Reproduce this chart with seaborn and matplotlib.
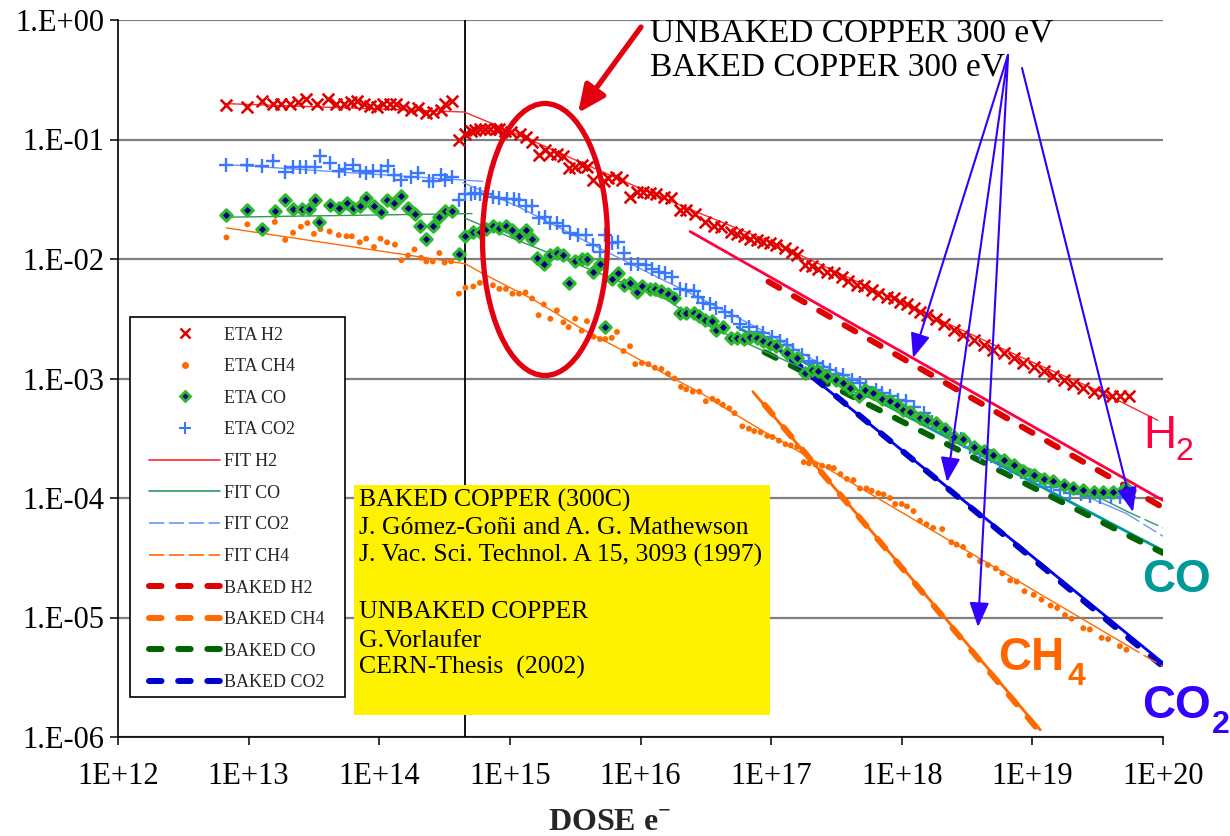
import numpy as np
import matplotlib
matplotlib.use("Agg")
import matplotlib.pyplot as plt
import seaborn as sns
from matplotlib.lines import Line2D
from matplotlib.patches import Ellipse, Rectangle
from matplotlib.ticker import NullLocator

sns.set_theme(style="ticks")
plt.rcParams["font.family"] = ["Liberation Serif", "DejaVu Serif"]
plt.rcParams["mathtext.fontset"] = "custom"
plt.rcParams["mathtext.rm"] = "Liberation Serif"
plt.rcParams["mathtext.bf"] = "Liberation Serif:bold"
plt.rcParams["lines.scale_dashes"] = False

# ---------------------------------------------------------------------------
# Desorption yields (molecules / electron) versus electron dose (e-/cm2).
# Values are stored as decimal exponents: dose = 10**dose_exp, eta = 10**eta_exp
# ---------------------------------------------------------------------------
h2_dose_exp = [12.83, 12.99, 13.10, 13.19, 13.25, 13.32, 13.38, 13.44, 13.52, 13.61,
               13.67, 13.73, 13.78, 13.83, 13.88, 13.93, 13.98, 14.03, 14.08, 14.13,
               14.18, 14.24, 14.30, 14.36, 14.41, 14.47, 14.50, 14.56,
               14.61, 14.66, 14.70, 14.73, 14.77, 14.81, 14.85, 14.89, 14.92, 14.96,
               15.01, 15.08, 15.12, 15.17, 15.22, 15.27, 15.31, 15.36, 15.41, 15.45,
               15.50, 15.55, 15.59, 15.64, 15.72, 15.75, 15.81, 15.86, 15.92, 15.97,
               16.02, 16.07, 16.12, 16.18, 16.23, 16.30, 16.35, 16.42,
               16.49, 16.56, 16.62, 16.69, 16.74, 16.79, 16.84, 16.89, 16.94, 16.99,
               17.04, 17.11, 17.16, 17.20, 17.26, 17.31, 17.36, 17.43, 17.48, 17.54,
               17.59, 17.66, 17.71, 17.77, 17.82, 17.89, 17.94, 17.99, 18.04, 18.09,
               18.14, 18.19, 18.26,
               18.32, 18.40, 18.47, 18.55, 18.63, 18.70, 18.78, 18.86, 18.93, 19.01,
               19.09, 19.16, 19.24, 19.31, 19.39, 19.47, 19.54, 19.61, 19.67, 19.74]
h2_eta_exp = [-0.71, -0.73, -0.68, -0.70, -0.70, -0.70, -0.69, -0.66, -0.70, -0.66,
              -0.70, -0.70, -0.69, -0.68, -0.70, -0.72, -0.73, -0.70, -0.70, -0.70,
              -0.73, -0.75, -0.74, -0.78, -0.77, -0.75, -0.70, -0.68,
              -1.00, -0.95, -0.93, -0.92, -0.91, -0.91, -0.91, -0.91, -0.91, -0.93,
              -0.94, -0.95, -0.98, -1.02, -1.13, -1.09, -1.12, -1.12, -1.14, -1.24,
              -1.23, -1.21, -1.23, -1.34, -1.35, -1.32, -1.31, -1.34, -1.48, -1.44,
              -1.44, -1.45, -1.46, -1.48, -1.49, -1.59, -1.59, -1.62,
              -1.69, -1.72, -1.73, -1.77, -1.79, -1.81, -1.83, -1.84, -1.86, -1.87,
              -1.88, -1.91, -1.94, -1.97, -2.05, -2.06, -2.08, -2.11, -2.12, -2.15,
              -2.18, -2.22, -2.23, -2.26, -2.29, -2.32, -2.33, -2.36, -2.38, -2.41,
              -2.44, -2.47, -2.50,
              -2.54, -2.59, -2.64, -2.68, -2.72, -2.76, -2.79, -2.83, -2.87, -2.90,
              -2.94, -2.98, -3.01, -3.05, -3.08, -3.11, -3.12, -3.15, -3.15, -3.15]

ch4_dose_exp = [12.83, 12.99, 13.20, 13.28, 13.34, 13.40, 13.45, 13.50, 13.55, 13.62,
                13.69, 13.75, 13.79, 13.85, 13.90, 13.96, 14.01, 14.06, 14.12, 14.17,
                14.22, 14.27, 14.32, 14.36, 14.41, 14.46, 14.50, 14.55,
                14.61, 14.66, 14.72, 14.77, 14.87, 14.92, 14.97, 15.02, 15.07, 15.12,
                15.17, 15.22, 15.26, 15.31, 15.36, 15.41, 15.45, 15.50, 15.55, 15.59,
                15.64, 15.69, 15.73, 15.78, 15.82, 15.87, 15.92, 15.96, 16.01, 16.06,
                16.11, 16.16, 16.21, 16.26, 16.31, 16.35, 16.40, 16.45, 16.50, 16.55,
                16.59, 16.63, 16.68, 16.72, 16.78, 16.83, 16.87, 16.92, 16.97, 17.01,
                17.06, 17.11, 17.15, 17.20,
                17.25, 17.29, 17.34, 17.39, 17.44, 17.48, 17.53, 17.58, 17.63, 17.68,
                17.73, 17.77, 17.82, 17.86, 17.91, 17.95, 18.00, 18.04, 18.09, 18.14,
                18.19, 18.24, 18.31, 18.38, 18.42, 18.47, 18.52, 18.60, 18.66, 18.72,
                18.77, 18.83, 18.88, 18.94, 19.01, 19.07, 19.14, 19.19, 19.25, 19.30,
                19.39, 19.44, 19.53, 19.58, 19.67, 19.72]
ch4_eta_exp = [-1.82, -1.71, -1.69, -1.84, -1.78, -1.73, -1.70, -1.79, -1.75, -1.77,
               -1.80, -1.81, -1.81, -1.86, -1.83, -1.90, -1.83, -1.86, -1.88, -2.01,
               -1.97, -1.92, -1.99, -2.02, -2.02, -1.95, -2.03, -2.02,
               -2.29, -2.24, -2.23, -2.20, -2.22, -2.25, -2.25, -2.29, -2.29, -2.28,
               -2.33, -2.47, -2.38, -2.50, -2.43, -2.53, -2.57, -2.50, -2.60, -2.52,
               -2.65, -2.67, -2.67, -2.66, -2.61, -2.77, -2.73, -2.88, -2.87, -2.88,
               -2.91, -2.92, -2.96, -3.00, -3.07, -3.09, -3.11, -3.11, -3.19, -3.17,
               -3.19, -3.22, -3.25, -3.29, -3.40, -3.42, -3.44, -3.45, -3.48, -3.49,
               -3.52, -3.55, -3.56, -3.57,
               -3.70, -3.71, -3.72, -3.73, -3.74, -3.75, -3.80, -3.84, -3.85, -3.92,
               -3.92, -3.94, -3.96, -3.97, -4.00, -4.05, -4.05, -4.07, -4.11, -4.19,
               -4.22, -4.25, -4.26, -4.37, -4.39, -4.41, -4.48, -4.53, -4.56, -4.59,
               -4.63, -4.69, -4.70, -4.78, -4.81, -4.85, -4.90, -4.92, -4.98, -5.01,
               -5.09, -5.10, -5.17, -5.18, -5.24, -5.27]

co_dose_exp = [12.83, 12.99, 13.10, 13.20, 13.28, 13.34, 13.41, 13.46, 13.51, 13.54,
               13.62, 13.69, 13.75, 13.80, 13.85, 13.90, 13.96, 14.01, 14.06, 14.11,
               14.17, 14.22, 14.27, 14.31, 14.36, 14.41, 14.46, 14.50, 14.56,
               14.61, 14.66, 14.72, 14.77, 14.82, 14.87, 14.92, 14.97, 15.02, 15.07,
               15.12, 15.17, 15.21, 15.26, 15.31, 15.36, 15.41, 15.45, 15.50, 15.55,
               15.59, 15.64, 15.69, 15.73, 15.78, 15.83, 15.87, 15.92, 15.97, 16.01,
               16.07, 16.11, 16.16, 16.21, 16.26, 16.30, 16.35, 16.41, 16.45,
               16.49, 16.55, 16.58, 16.63, 16.69, 16.74, 16.79, 16.84, 16.89, 16.94,
               16.99, 17.04, 17.12, 17.20, 17.26, 17.31, 17.36, 17.43, 17.50, 17.55,
               17.60, 17.67, 17.72, 17.78, 17.85, 17.91, 17.96, 18.01, 18.06, 18.14,
               18.19, 18.26,
               18.33, 18.40, 18.47, 18.55, 18.63, 18.70, 18.78, 18.86, 18.93, 19.01,
               19.09, 19.16, 19.24, 19.31, 19.39, 19.47, 19.54, 19.62, 19.69, 19.72]
co_eta_exp = [-1.63, -1.59, -1.75, -1.60, -1.51, -1.58, -1.58, -1.58, -1.51, -1.69,
              -1.55, -1.57, -1.53, -1.57, -1.56, -1.49, -1.56, -1.61, -1.51, -1.53,
              -1.47, -1.57, -1.62, -1.72, -1.83, -1.72, -1.65, -1.60, -1.60,
              -1.96, -1.81, -1.77, -1.77, -1.75, -1.72, -1.74, -1.72, -1.76, -1.81,
              -1.76, -1.83, -1.99, -2.04, -1.97, -1.95, -1.97, -2.20, -2.02, -2.00,
              -2.00, -2.11, -2.04, -2.57, -2.17, -2.12, -2.22, -2.20, -2.28, -2.23,
              -2.25, -2.25, -2.27, -2.29, -2.33, -2.45, -2.45, -2.45, -2.48,
              -2.51, -2.52, -2.59, -2.57, -2.66, -2.66, -2.67, -2.65, -2.66, -2.69,
              -2.71, -2.73, -2.79, -2.83, -2.95, -2.93, -2.94, -2.98, -3.01, -3.04,
              -3.08, -3.15, -3.10, -3.12, -3.17, -3.19, -3.22, -3.26, -3.28, -3.33,
              -3.35, -3.37,
              -3.42, -3.49, -3.51, -3.57, -3.61, -3.64, -3.68, -3.72, -3.77, -3.81,
              -3.84, -3.86, -3.89, -3.92, -3.93, -3.95, -3.95, -3.95, -3.93, -3.92]

co2_dose_exp = [12.83, 12.99, 13.10, 13.19, 13.28, 13.34, 13.39, 13.44, 13.51, 13.55,
                13.62, 13.69, 13.74, 13.80, 13.85, 13.90, 13.95, 14.01, 14.07, 14.11,
                14.17, 14.24, 14.30, 14.38, 14.41, 14.47, 14.50, 14.56,
                14.61, 14.66, 14.70, 14.73, 14.77, 14.82, 14.87, 14.92, 14.98, 15.03,
                15.07, 15.12, 15.17, 15.22, 15.27, 15.31, 15.36, 15.41, 15.46, 15.52,
                15.58, 15.64, 15.69, 15.73, 15.78, 15.83, 15.87, 15.93, 15.98, 16.04,
                16.09, 16.14, 16.19, 16.24, 16.30, 16.35, 16.41, 16.44,
                16.48, 16.53, 16.58, 16.65, 16.70, 16.76, 16.83, 16.89, 16.94, 17.01,
                17.07, 17.12, 17.17, 17.24, 17.29, 17.35, 17.40, 17.45, 17.50, 17.55,
                17.62, 17.68, 17.73, 17.80, 17.85, 17.91, 17.97, 18.03, 18.09, 18.17,
                18.23,
                18.29, 18.37, 18.45, 18.52, 18.60, 18.68, 18.75, 18.83, 18.91, 18.98,
                19.06, 19.14, 19.21, 19.29, 19.37, 19.44, 19.52, 19.60, 19.67, 19.74]
co2_eta_exp = [-1.21, -1.21, -1.22, -1.18, -1.27, -1.23, -1.23, -1.23, -1.23, -1.14,
               -1.20, -1.26, -1.25, -1.21, -1.26, -1.28, -1.26, -1.26, -1.22, -1.30,
               -1.34, -1.31, -1.28, -1.35, -1.35, -1.30, -1.34, -1.31,
               -1.51, -1.46, -1.46, -1.45, -1.46, -1.46, -1.48, -1.49, -1.50, -1.50,
               -1.51, -1.56, -1.56, -1.66, -1.65, -1.70, -1.70, -1.72, -1.78, -1.80,
               -1.80, -1.88, -1.94, -1.80, -1.87, -1.86, -1.95, -2.04, -2.04, -2.05,
               -2.08, -2.11, -2.12, -2.15, -2.25, -2.26, -2.27, -2.32,
               -2.37, -2.38, -2.41, -2.44, -2.48, -2.54, -2.57, -2.61, -2.62, -2.65,
               -2.69, -2.72, -2.76, -2.80, -2.85, -2.87, -2.90, -2.93, -2.96, -2.97,
               -3.01, -3.04, -3.07, -3.10, -3.12, -3.15, -3.18, -3.19, -3.24, -3.29,
               -3.36,
               -3.41, -3.47, -3.51, -3.57, -3.63, -3.65, -3.70, -3.74, -3.78, -3.82,
               -3.86, -3.91, -3.93, -3.96, -3.97, -3.98, -3.99, -3.99, -3.99, -3.99]

# Fits to the unbaked data (before and after the 4.5E14 step)
fit_h2_dose_exp = [12.83, 14.65, 14.85, 15.15, 15.54, 16.00, 16.46, 17.07, 17.68, 18.29,
                   18.91, 19.52, 19.65, 19.96]
fit_h2_eta_exp = [-0.70, -0.77, -0.86, -1.00, -1.19, -1.41, -1.62, -1.89, -2.20, -2.51,
                  -2.82, -3.11, -3.18, -3.35]

fit_co_pre_dose_exp = [12.83, 14.71]
fit_co_pre_eta_exp = [-1.65, -1.62]
fit_co_dose_exp = [14.66, 15.05, 15.44, 15.82, 16.20, 16.46, 16.76, 17.15, 17.60, 17.99,
                   18.37, 18.75, 19.21, 19.52, 19.72]
fit_co_eta_exp = [-1.66, -1.84, -2.01, -2.18, -2.34, -2.53, -2.68, -2.87, -3.10, -3.26,
                  -3.45, -3.64, -3.87, -4.00, -4.11]
fit_co_ext_dose_exp = [19.72, 20.0]
fit_co_ext_eta_exp = [-4.11, -4.25]

fit_co2_pre_dose_exp = [12.83, 14.79]
fit_co2_pre_eta_exp = [-1.21, -1.35]
fit_co2_dose_exp = [14.64, 15.06, 15.56, 16.07, 16.46, 16.92, 17.38, 17.83, 18.29, 18.75,
                    19.21, 19.42, 19.72]
fit_co2_eta_exp = [-1.36, -1.56, -1.84, -2.12, -2.33, -2.59, -2.88, -3.11, -3.40, -3.66,
                   -3.89, -3.99, -4.13]
fit_co2_ext_dose_exp = [19.72, 20.0]
fit_co2_ext_eta_exp = [-4.13, -4.32]

fit_ch4_pre_dose_exp = [12.83, 14.66]
fit_ch4_pre_eta_exp = [-1.74, -2.04]
fit_ch4_dose_exp = [14.66, 14.79, 15.18, 15.56, 15.94, 16.20, 16.46, 16.71, 16.97, 17.07,
                    19.72]
fit_ch4_eta_exp = [-2.04, -2.12, -2.34, -2.59, -2.81, -2.97, -3.12, -3.29, -3.46, -3.52,
                   -5.23]
fit_ch4_ext_dose_exp = [19.72, 20.0]
fit_ch4_ext_eta_exp = [-5.23, -5.41]

# Baked copper (Gomez-Goni & Mathewson): power-law trends
baked_h2_dose_exp, baked_h2_eta_exp = [16.98, 20.0], [-2.19, -4.08]
baked_h2_trend_dose_exp, baked_h2_trend_eta_exp = [16.38, 20.0], [-1.77, -4.02]
baked_co_dose_exp, baked_co_eta_exp = [16.95, 20.0], [-2.78, -4.46]
baked_co_trend_dose_exp, baked_co_trend_eta_exp = [16.74, 20.0], [-2.57, -4.44]
baked_co2_dose_exp, baked_co2_eta_exp = [16.98, 20.0], [-2.68, -5.41]
baked_co2_trend_dose_exp, baked_co2_trend_eta_exp = [16.99, 20.0], [-2.70, -5.38]
baked_ch4_dose_exp, baked_ch4_eta_exp = [16.95, 19.06], [-3.22, -5.96]
baked_ch4_trend_dose_exp, baked_ch4_trend_eta_exp = [16.86, 19.06], [-3.11, -5.94]

step_dose = 4.5e14

x_tick_exp = [12, 13, 14, 15, 16, 17, 18, 19, 20]
x_tick_labels = ["1E+12", "1E+13", "1E+14", "1E+15", "1E+16", "1E+17", "1E+18", "1E+19", "1E+20"]
y_tick_exp = [-6, -5, -4, -3, -2, -1, 0]
y_tick_labels = ["1.E-06", "1.E-05", "1.E-04", "1.E-03", "1.E-02", "1.E-01", "1.E+00"]

legend_labels = ["ETA H2", "ETA CH4", "ETA CO", "ETA CO2", "FIT H2", "FIT CO", "FIT CO2",
                 "FIT CH4", "BAKED H2", "BAKED CH4", "BAKED CO", "BAKED CO2"]

box_lines = ["BAKED COPPER (300C)",
             "J. Gómez-Goñi and A. G. Mathewson",
             "J. Vac. Sci. Technol. A 15, 3093 (1997)",
             "UNBAKED COPPER",
             "G.Vorlaufer",
             "CERN-Thesis  (2002)"]
title_lines = ["UNBAKED COPPER 300 eV", "BAKED COPPER 300 eV"]

# colours
C_H2, C_CH4, C_CO_FACE, C_CO_EDGE, C_CO2 = "#E00000", "#FF6A00", "#000080", "#2DB82D", "#3A78FF"
C_FIT_H2, C_FIT_CO, C_FIT_CO2, C_FIT_CH4 = "#FF2A2A", "#2E9A5E", "#6A96FF", "#FF6A00"
C_BK_H2, C_BK_CH4, C_BK_CO, C_BK_CO2 = "#E00000", "#FF6A00", "#006400", "#0000CC"
C_TR_H2, C_TR_CO, C_TR_CO2, C_TR_CH4 = "#FF0040", "#009999", "#0000F0", "#FF6600"
C_ARROW_BLUE, C_RED = "#3300FF", "#E3000F"

BAKED_DASH = (0, (9, 12))
FIT_DASH = (0, (11, 3.3))


def dec(values):
    return np.power(10.0, np.asarray(values, dtype=float))


fig = plt.figure(figsize=(12.3, 8.36), dpi=100)
ax = fig.add_axes([118 / 1230, 99 / 836, 1045 / 1230, 717 / 836])
ax.set_xscale("log")
ax.set_yscale("log")
ax.set_xlim(1e12, 1e20)
ax.set_ylim(1e-6, 1)


def curve(xe, ye, color, lw, ls="-", z=2.0, **kw):
    sns.lineplot(x=dec(xe), y=dec(ye), color=color, linewidth=lw, linestyle=ls,
                 estimator=None, sort=False, ax=ax, zorder=z, **kw)


# baked copper trends and power-law lines
curve(baked_h2_trend_dose_exp, baked_h2_trend_eta_exp, C_TR_H2, 2.0)
curve(baked_co_trend_dose_exp, baked_co_trend_eta_exp, C_TR_CO, 2.0)
curve(baked_co2_trend_dose_exp, baked_co2_trend_eta_exp, C_TR_CO2, 2.0)
curve(baked_ch4_trend_dose_exp, baked_ch4_trend_eta_exp, C_TR_CH4, 2.0)
for xe, ye, c in [(baked_h2_dose_exp, baked_h2_eta_exp, C_BK_H2),
                  (baked_ch4_dose_exp, baked_ch4_eta_exp, C_BK_CH4),
                  (baked_co_dose_exp, baked_co_eta_exp, C_BK_CO),
                  (baked_co2_dose_exp, baked_co2_eta_exp, C_BK_CO2)]:
    curve(xe, ye, c, 4.3, BAKED_DASH, z=2.2, dash_capstyle="round")

# fits to unbaked data
curve(fit_h2_dose_exp, fit_h2_eta_exp, C_FIT_H2, 1.0, z=2.5)
curve(fit_co_pre_dose_exp, fit_co_pre_eta_exp, C_FIT_CO, 1.0, z=2.5)
curve(fit_co_dose_exp, fit_co_eta_exp, C_FIT_CO, 1.0, z=2.5)
curve(fit_co_ext_dose_exp, fit_co_ext_eta_exp, C_FIT_CO, 1.0, FIT_DASH, z=2.5)
curve(fit_co2_pre_dose_exp, fit_co2_pre_eta_exp, C_FIT_CO2, 1.0, z=2.5)
curve(fit_co2_dose_exp, fit_co2_eta_exp, C_FIT_CO2, 1.0, z=2.5)
curve(fit_co2_ext_dose_exp, fit_co2_ext_eta_exp, C_FIT_CO2, 1.0, FIT_DASH, z=2.5)
curve(fit_ch4_pre_dose_exp, fit_ch4_pre_eta_exp, C_FIT_CH4, 1.0, z=2.5)
curve(fit_ch4_dose_exp, fit_ch4_eta_exp, C_FIT_CH4, 1.0, z=2.5)
curve(fit_ch4_ext_dose_exp, fit_ch4_ext_eta_exp, C_FIT_CH4, 1.0, FIT_DASH, z=2.5)

# measured yields
sns.scatterplot(x=dec(ch4_dose_exp), y=dec(ch4_eta_exp), marker="o", s=18,
                color=C_CH4, edgecolor="none", ax=ax, zorder=3, legend=False)
sns.scatterplot(x=dec(co2_dose_exp), y=dec(co2_eta_exp), marker="+", s=95,
                color=C_CO2, linewidth=1.7, ax=ax, zorder=3.1, legend=False)
sns.scatterplot(x=dec(co_dose_exp), y=dec(co_eta_exp), marker="D", s=34,
                color=C_CO_FACE, edgecolor=C_CO_EDGE, linewidth=2.2, ax=ax, zorder=3.2,
                legend=False)
sns.scatterplot(x=dec(h2_dose_exp), y=dec(h2_eta_exp), marker="x", s=70,
                color=C_H2, linewidth=1.9, ax=ax, zorder=3.3, legend=False)

ax.axvline(step_dose, color="black", lw=1.3, zorder=1.8)

# axes styling
ax.set_xticks(dec(x_tick_exp))
ax.set_xticklabels(x_tick_labels)
ax.set_yticks(dec(y_tick_exp))
ax.set_yticklabels(y_tick_labels)
ax.xaxis.set_minor_locator(NullLocator())
ax.yaxis.set_minor_locator(NullLocator())
ax.tick_params(axis="x", direction="out", length=6, width=1.1, pad=12, labelsize=22,
               colors="black")
ax.tick_params(axis="y", direction="out", length=6, width=1.1, pad=4, labelsize=22,
               colors="black")
ax.set_axisbelow(True)
ax.yaxis.grid(True, color="#7F7F7F", linewidth=1.6)
ax.xaxis.grid(False)
for side in ("top", "right"):
    ax.spines[side].set_visible(False)
for side in ("left", "bottom"):
    ax.spines[side].set_color("black")
    ax.spines[side].set_linewidth(1.2)
ax.set_xlabel("")
ax.set_ylabel("")
fig.text(610 / 1230, 6 / 836, r"DOSE e$^{\mathbf{-}}$", ha="center", va="baseline",
         fontsize=23, fontweight="bold")

# legend panel
ax.add_patch(Rectangle((12 / 1045, 40 / 717), 215 / 1045, 380 / 717, transform=ax.transAxes,
                       facecolor="white", edgecolor="black", lw=1.2, zorder=4.5))
handles = [
    Line2D([], [], ls="none", marker="x", ms=7.5, mew=1.8, color=C_H2),
    Line2D([], [], ls="none", marker="o", ms=4, color=C_CH4, mec=C_CH4),
    Line2D([], [], ls="none", marker="D", ms=5.5, mfc=C_CO_FACE, mec=C_CO_EDGE, mew=2.0),
    Line2D([], [], ls="none", marker="+", ms=8.5, mew=1.5, color=C_CO2),
    Line2D([], [], color=C_FIT_H2, lw=1.2),
    Line2D([], [], color=C_FIT_CO, lw=1.2),
    Line2D([], [], color=C_FIT_CO2, lw=1.2, ls=FIT_DASH),
    Line2D([], [], color=C_FIT_CH4, lw=1.2, ls=FIT_DASH),
    Line2D([], [], color=C_BK_H2, lw=4.3, ls=BAKED_DASH, dash_capstyle="round"),
    Line2D([], [], color=C_BK_CH4, lw=4.3, ls=BAKED_DASH, dash_capstyle="round"),
    Line2D([], [], color=C_BK_CO, lw=4.3, ls=BAKED_DASH, dash_capstyle="round"),
    Line2D([], [], color=C_BK_CO2, lw=4.3, ls=BAKED_DASH, dash_capstyle="round"),
]
leg = ax.legend(handles, legend_labels, loc="upper left",
                bbox_to_anchor=((149 - 7.2 - 118) / 1045, (737 - 319.3) / 717),
                bbox_transform=ax.transAxes, frameon=False, fontsize=13,
                handlelength=3.93, handletextpad=0.22, labelspacing=0.81,
                borderpad=0.4, borderaxespad=0)
leg.set_zorder(5)

# reference box
box = Rectangle((236 / 1045, 22 / 717), 416 / 1045, 230 / 717, transform=ax.transAxes,
                facecolor="#FFF200", edgecolor="none", zorder=4.5)
ax.add_patch(box)
for line_text, base in zip(box_lines, [507, 534, 562, 618, 647, 674]):
    t = ax.text((359 - 118) / 1045, (737 - base) / 717, line_text, transform=ax.transAxes,
                fontsize=18.5, ha="left", va="baseline", color="black", zorder=6,
                clip_on=True)
    t.set_clip_path(box)

# annotation text and arrows
for line_text, base in zip(title_lines, [41, 75]):
    ax.text((650 - 118) / 1045, (737 - base) / 717, line_text, transform=ax.transAxes,
            fontsize=24, ha="left", va="baseline", color="black", zorder=6)


def fx(px):
    return (px - 118) / 1045


def fy(py):
    return (737 - py) / 717


ax.annotate("", xy=(fx(578), fy(113)), xycoords="axes fraction",
            xytext=(fx(641), fy(27)), textcoords="axes fraction",
            arrowprops=dict(arrowstyle="-|>,head_length=0.55,head_width=0.25",
                            color=C_RED, lw=3.8, shrinkA=0, shrinkB=0, mutation_scale=30),
            zorder=8)
for tail, tip in [((1008, 55), (913, 358)), ((1008, 55), (947, 482)),
                  ((1008, 57), (978, 627)), ((1022, 68), (1133, 512))]:
    ax.annotate("", xy=(fx(tip[0]), fy(tip[1])), xycoords="axes fraction",
                xytext=(fx(tail[0]), fy(tail[1])), textcoords="axes fraction",
                arrowprops=dict(arrowstyle="-|>,head_length=0.5,head_width=0.2",
                                color=C_ARROW_BLUE, lw=1.5, shrinkA=0, shrinkB=0,
                                mutation_scale=30),
                zorder=8)
ax.add_patch(Ellipse((fx(545), fy(239.5)), 125 / 1045, 272 / 717, transform=ax.transAxes,
                     fill=False, edgecolor=C_RED, lw=3.8, zorder=8))

# gas labels
sans = ["Liberation Sans", "DejaVu Sans"]
ax.text(fx(1143), fy(448), "H", transform=ax.transAxes, fontsize=33, family=sans,
        color=C_TR_H2, ha="left", va="baseline", clip_on=False)
ax.text(fx(1175), fy(460), "2", transform=ax.transAxes, fontsize=23, family=sans,
        color=C_TR_H2, ha="left", va="baseline", clip_on=False)
ax.text(fx(1142), fy(592), "CO", transform=ax.transAxes, fontsize=33, family=sans,
        fontweight="bold", color=C_TR_CO, ha="left", va="baseline", clip_on=False)
ax.text(fx(998), fy(670), "CH", transform=ax.transAxes, fontsize=33, family=sans,
        fontweight="bold", color=C_TR_CH4, ha="left", va="baseline", clip_on=False)
ax.text(fx(1067), fy(685), "4", transform=ax.transAxes, fontsize=23, family=sans,
        fontweight="bold", color=C_TR_CH4, ha="left", va="baseline", clip_on=False)
ax.text(fx(1142), fy(718), "CO", transform=ax.transAxes, fontsize=33, family=sans,
        fontweight="bold", color=C_ARROW_BLUE, ha="left", va="baseline", clip_on=False)
ax.text(fx(1212), fy(733), "2", transform=ax.transAxes, fontsize=23, family=sans,
        fontweight="bold", color=C_ARROW_BLUE, ha="left", va="baseline", clip_on=False)

fig.savefig("out.png", dpi=100, facecolor="white")
